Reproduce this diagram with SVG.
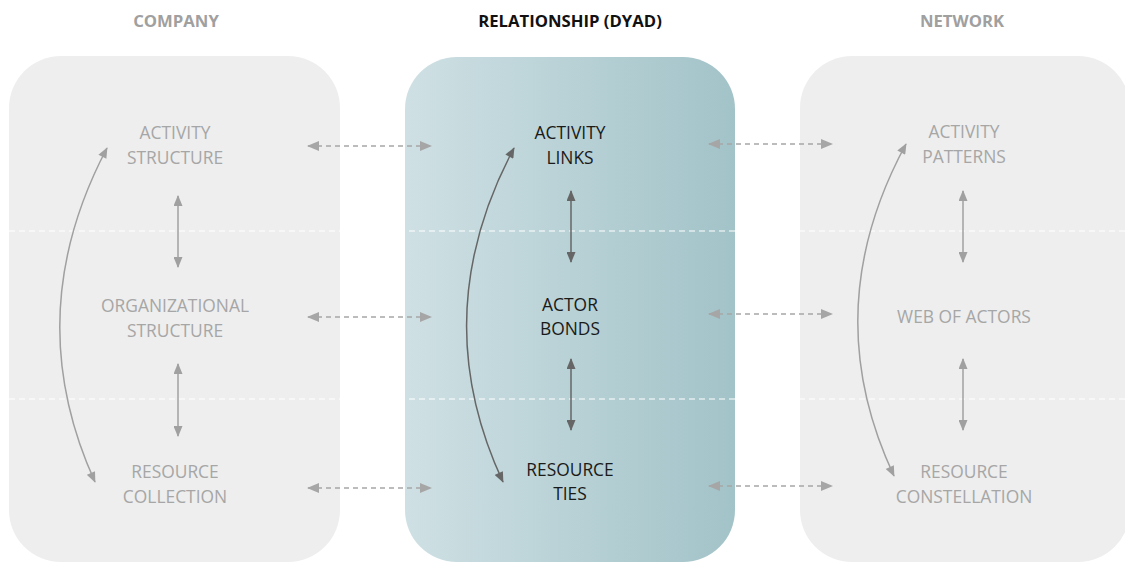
<svg xmlns="http://www.w3.org/2000/svg" width="1125" height="563" viewBox="0 0 1125 563">
<style>
.title{font-family:"Open Sans","Liberation Sans",sans-serif;font-weight:bold;font-size:16.7px;text-anchor:middle}
.lbl{font-family:"Open Sans","Liberation Sans",sans-serif;font-size:17.4px;text-anchor:middle}
.g{fill:#a6a6a6}
.d{fill:#1a1a1a}
.sep{stroke:#ffffff;stroke-width:1.2;stroke-dasharray:6 4;fill:none}
.dash{stroke:#a6a6a6;stroke-width:1.5;stroke-dasharray:5 4;fill:none;marker-start:url(#ad);marker-end:url(#ad)}
.ga{stroke:#a0a0a0;stroke-width:1.5;fill:none;marker-start:url(#ag);marker-end:url(#ag)}
.da{stroke:#666666;stroke-width:1.5;fill:none;marker-start:url(#am);marker-end:url(#am)}
</style>
<defs>
<linearGradient id="mid" x1="0" y1="0" x2="1" y2="0">
<stop offset="0" stop-color="#cfe0e4"/>
<stop offset="1" stop-color="#a2c3c8"/>
</linearGradient>
<marker id="ad" viewBox="0 0 12 10" refX="11" refY="5" markerWidth="12" markerHeight="10" markerUnits="userSpaceOnUse" orient="auto-start-reverse"><path d="M0,0 L12,5 L0,10 z" fill="#a6a6a6"/></marker>
<marker id="ag" viewBox="0 0 12 10" refX="11" refY="5" markerWidth="12" markerHeight="9" markerUnits="userSpaceOnUse" orient="auto-start-reverse"><path d="M0,0 L12,5 L0,10 z" fill="#a0a0a0"/></marker>
<marker id="am" viewBox="0 0 12 10" refX="11" refY="5" markerWidth="12" markerHeight="9" markerUnits="userSpaceOnUse" orient="auto-start-reverse"><path d="M0,0 L12,5 L0,10 z" fill="#666666"/></marker>
</defs>
<rect width="1125" height="563" fill="#ffffff"/>
<g id="titles">
<text class="title" x="176" y="27" fill="#a0a0a0">COMPANY</text>
<text class="title" x="570" y="27" fill="#111111">RELATIONSHIP (DYAD)</text>
<text class="title" x="962" y="27" fill="#a0a0a0">NETWORK</text>
</g>
<g id="panels">
<rect id="company" x="9" y="56" width="331" height="506" rx="52" fill="#eeeeee"/>
<rect id="relationship" x="405" y="57" width="330" height="505" rx="52" fill="url(#mid)"/>
<rect id="network" x="800" y="56" width="330" height="506" rx="52" fill="#eeeeee"/>
</g>
<g id="separators">
<line class="sep" x1="9" y1="231" x2="1125" y2="231"/>
<line class="sep" x1="9" y1="399" x2="1125" y2="399"/>
</g>
<g id="node-activity-structure"><text class="lbl g" x="175" y="139">ACTIVITY</text><text class="lbl g" x="175" y="164">STRUCTURE</text></g>
<g id="node-organizational-structure"><text class="lbl g" x="175" y="312">ORGANIZATIONAL</text><text class="lbl g" x="175" y="337">STRUCTURE</text></g>
<g id="node-resource-collection"><text class="lbl g" x="175" y="478">RESOURCE</text><text class="lbl g" x="175" y="503">COLLECTION</text></g>
<g id="node-activity-links"><text class="lbl d" x="570" y="139">ACTIVITY</text><text class="lbl d" x="570" y="164">LINKS</text></g>
<g id="node-actor-bonds"><text class="lbl d" x="570" y="311">ACTOR</text><text class="lbl d" x="570" y="335">BONDS</text></g>
<g id="node-resource-ties"><text class="lbl d" x="570" y="476">RESOURCE</text><text class="lbl d" x="570" y="500">TIES</text></g>
<g id="node-activity-patterns"><text class="lbl g" x="964" y="138">ACTIVITY</text><text class="lbl g" x="964" y="163">PATTERNS</text></g>
<g id="node-web-of-actors"><text class="lbl g" x="964" y="323">WEB OF ACTORS</text></g>
<g id="node-resource-constellation"><text class="lbl g" x="964" y="478">RESOURCE</text><text class="lbl g" x="964" y="503">CONSTELLATION</text></g>
<g id="connectors">
<line class="dash" x1="308" y1="146" x2="431" y2="146"/>
<line class="dash" x1="308" y1="317" x2="431" y2="317"/>
<line class="dash" x1="308" y1="488" x2="431" y2="488"/>
<line class="dash" x1="709" y1="144" x2="832" y2="144"/>
<line class="dash" x1="709" y1="314" x2="832" y2="314"/>
<line class="dash" x1="709" y1="486" x2="832" y2="486"/>
<line class="ga" x1="178" y1="196" x2="178" y2="267"/>
<line class="ga" x1="178" y1="364" x2="178" y2="436"/>
<line class="da" x1="571" y1="191" x2="571" y2="262"/>
<line class="da" x1="571" y1="359" x2="571" y2="430"/>
<line class="ga" x1="963" y1="191" x2="963" y2="262"/>
<line class="ga" x1="963" y1="359" x2="963" y2="430"/>
<path class="ga" d="M107,148 Q19,315 95,482"/>
<path class="da" d="M514,148 Q425,315 503,482"/>
<path class="ga" d="M906,144 Q816,310 894,476"/>
</g>
</svg>
